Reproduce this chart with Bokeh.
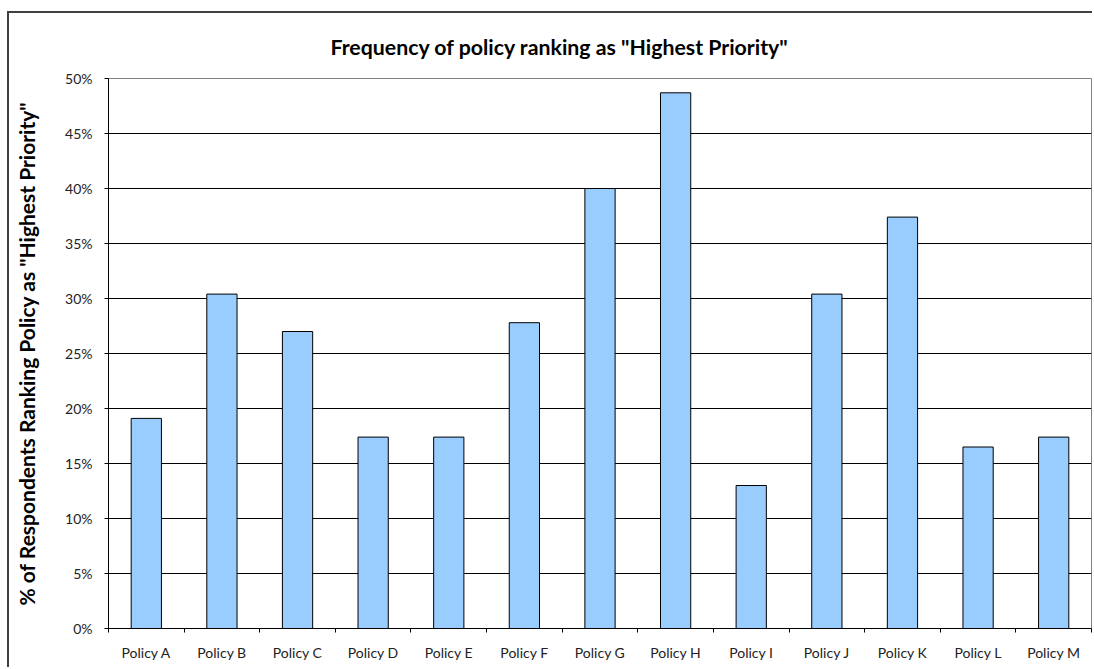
from bokeh.plotting import figure
from bokeh.models import ColumnDataSource, FixedTicker, NumeralTickFormatter, Range1d
from bokeh.embed import file_html
from bokeh.resources import INLINE

# Share of respondents ranking each policy as "Highest Priority"
policies = ["Policy A", "Policy B", "Policy C", "Policy D", "Policy E", "Policy F", "Policy G",
            "Policy H", "Policy I", "Policy J", "Policy K", "Policy L", "Policy M"]
share = [0.191, 0.304, 0.270, 0.174, 0.174, 0.278, 0.400,
         0.487, 0.130, 0.304, 0.374, 0.165, 0.174]
y_ticks = [0.0, 0.05, 0.10, 0.15, 0.20, 0.25, 0.30, 0.35, 0.40, 0.45, 0.50]

FONT = "Lato"

n = len(policies)
centers = [i + 0.5 for i in range(n)]
source = ColumnDataSource(dict(x=centers, share=share, policy=policies))

# canvas shifted to (9, 13) in the page; a shadow offset up-left draws the
# chart-area border along its top and left edges
p = figure(
    width=1085, height=656,
    x_range=Range1d(0, n), y_range=Range1d(0, 0.5),
    output_backend="svg", toolbar_location=None,
    min_border_left=99, min_border_right=3, min_border_top=63, min_border_bottom=41,
    title='Frequency of policy ranking as "Highest Priority"',
)
p.styles = {"transform": "translate(9px, 13px)", "box-shadow": "-2px -2px 0 0 #404040"}

p.background_fill_color = "white"
p.border_fill_color = "white"
p.outline_line_color = "#808080"
p.outline_line_width = 1

# title
p.title.align = "left"
p.title.offset = 222
p.title.standoff = 37
p.title.text_font = FONT
p.title.text_font_size = "21.3px"
p.title.text_font_style = "bold"
p.title.text_color = "black"

# bars
p.vbar(x="x", top="share", width=0.4, source=source,
       fill_color="#99CCFF", line_color="black", line_width=1)

# y axis
p.yaxis.ticker = FixedTicker(ticks=y_ticks)
p.yaxis.formatter = NumeralTickFormatter(format="0%")
p.yaxis.axis_label = '% of Respondents Ranking Policy as "Highest Priority"'
p.yaxis.axis_label_text_font = FONT
p.yaxis.axis_label_text_font_size = "21px"
p.yaxis.axis_label_text_font_style = "bold"
p.yaxis.axis_label_text_color = "black"
p.yaxis.axis_label_standoff = 23
p.yaxis.major_label_text_font = FONT
p.yaxis.major_label_text_font_size = "14px"
p.yaxis.major_label_text_color = "#222222"
p.yaxis.major_label_standoff = 12
p.yaxis.major_tick_in = 0
p.yaxis.major_tick_out = 4
p.yaxis.minor_tick_line_color = None
p.yaxis.axis_line_color = "black"
p.yaxis.major_tick_line_color = "black"

# x axis: labels at category centres, ticks on category boundaries
p.xaxis.ticker = FixedTicker(ticks=centers, minor_ticks=list(range(n + 1)))
p.xaxis.major_label_overrides = {c: name for c, name in zip(centers, policies)}
p.xaxis.major_label_text_font = FONT
p.xaxis.major_label_text_font_size = "14px"
p.xaxis.major_label_text_color = "#222222"
p.xaxis.major_label_standoff = 11
p.xaxis.major_tick_in = 0
p.xaxis.major_tick_out = 0
p.xaxis.minor_tick_in = 0
p.xaxis.minor_tick_out = 4
p.xaxis.minor_tick_line_color = "black"
p.xaxis.axis_line_color = "black"

# grid
p.xgrid.grid_line_color = None
p.ygrid.ticker = FixedTicker(ticks=y_ticks)
p.ygrid.grid_line_color = "black"
p.ygrid.grid_line_width = 1

open("out.html", "w").write(file_html(p, INLINE))
